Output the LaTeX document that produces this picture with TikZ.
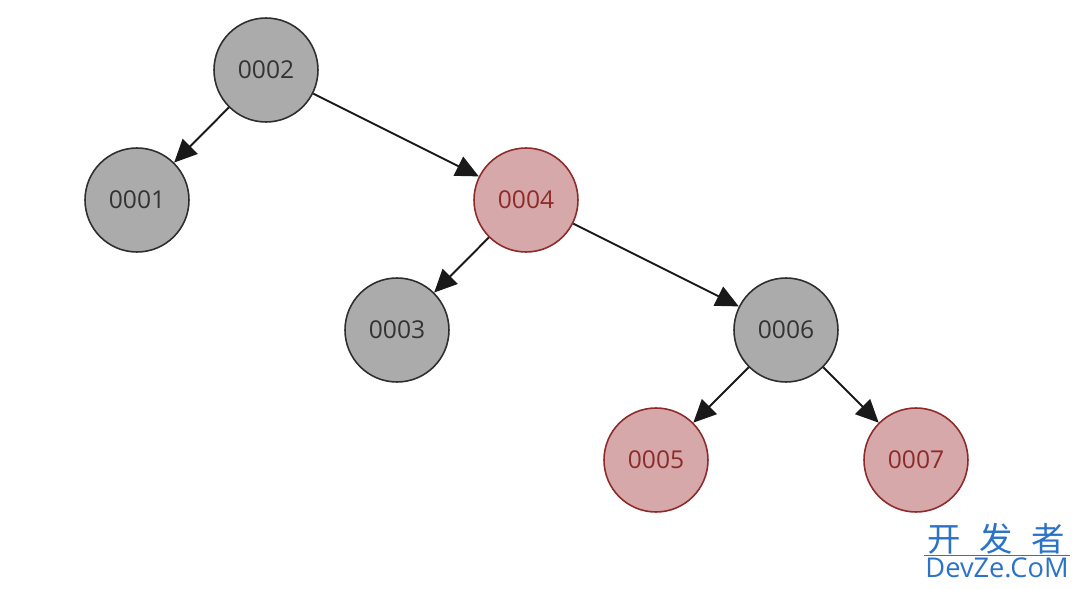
\documentclass[tikz,border=0pt]{standalone}
\usepackage{fontspec}
\setmainfont{Open Sans}
\newfontfamily\cjk{Noto Sans CJK SC}
\usetikzlibrary{arrows.meta}
\definecolor{gfill}{HTML}{AAABAA}
\definecolor{gline}{HTML}{2E2E2E}
\definecolor{rfill}{HTML}{D6A8A9}
\definecolor{rline}{HTML}{8E2A2A}
\definecolor{rtext}{HTML}{8E2A2A}
\definecolor{wblue}{HTML}{2A73C8}
\tikzset{
  px/.style={x=0.02cm,y=-0.02cm},
  blacknode/.style={circle,draw=gline,fill=gfill,line width=0.9pt,minimum size=2.08cm,inner sep=0pt,font=\fontsize{14}{16}\selectfont,text=black!80},
  rednode/.style={circle,draw=rline,fill=rfill,line width=0.9pt,minimum size=2.08cm,inner sep=0pt,font=\fontsize{14}{16}\selectfont,text=rtext},
  edge/.style={draw=black!90,line width=1.1pt,-{Triangle[length=13pt,width=12pt]}},
  wm/.style={text=wblue,inner sep=0pt}
}
\begin{document}
\begin{tikzpicture}[px]
\useasboundingbox (0,0) rectangle (1080,589);
\node[blacknode] (n2) at (266,70) {0002};
\node[blacknode] (n1) at (137,200) {0001};
\node[rednode]   (n4) at (526,200) {0004};
\node[blacknode] (n3) at (397,330) {0003};
\node[blacknode] (n6) at (786,330) {0006};
\node[rednode]   (n5) at (656,460) {0005};
\node[rednode]   (n7) at (916,460) {0007};
\draw[edge] (n2) -- (n1);
\draw[edge] (n2) -- (n4);
\draw[edge] (n4) -- (n3);
\draw[edge] (n4) -- (n6);
\draw[edge] (n6) -- (n5);
\draw[edge] (n6) -- (n7);
\node[wm,font=\cjk\fontsize{19}{20}\selectfont] (wcn) at (996,539) {开\hspace{0.55em}发\hspace{0.55em}者};
\coordinate (wl) at (924,555);
\coordinate (wr) at (1070,555);
\draw[wblue,line width=0.5pt] (wl) -- (wr);
\node[wm,font=\fontsize{15.5}{17}\selectfont] (wen) at (997,568) {DevZe.CoM};
\end{tikzpicture}
\end{document}
